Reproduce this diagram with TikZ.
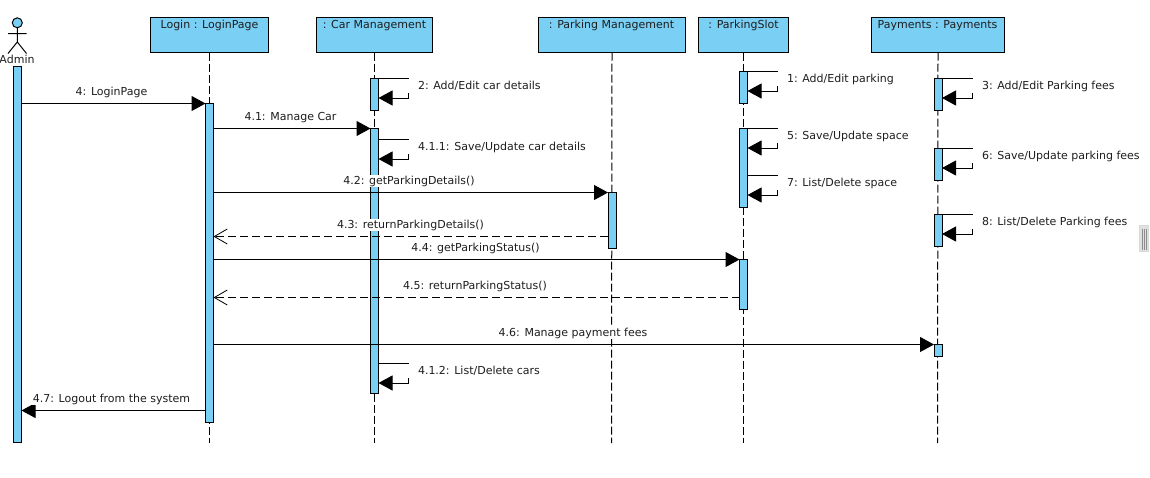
\documentclass[tikz,border=0pt]{standalone}
\usepackage{fontspec}
\setmainfont{DejaVu Sans}
\usetikzlibrary{arrows.meta}
\definecolor{umlblue}{RGB}{122,207,245}
\definecolor{inkc}{RGB}{30,30,30}
\tikzset{
  x=1pt,y=-1pt,
  every node/.style={font=\fontsize{11}{13}\selectfont,text=inkc,inner sep=0pt,outer sep=0pt},
  lifebox/.style={draw=black,fill=umlblue,line width=1pt,anchor=north west,inner sep=0pt},
  boxtitle/.style={anchor=center},
  lifeline/.style={draw=black,line width=1pt,dash pattern=on 8pt off 3pt},
  actbar/.style={draw=black,fill=umlblue,line width=1pt,minimum width=8pt,anchor=north,inner sep=0pt},
  msg/.style={draw=black,line width=1pt,-{Triangle[length=14pt,width=15pt]}},
  ret/.style={draw=black,line width=1pt,dash pattern=on 8pt off 4pt,-{Straight Barb[length=13pt,width=15pt,line width=.8pt]}},
  lab/.style={fill=white,inner ysep=.6pt,inner xsep=1pt},
  sellab/.style={fill=white,anchor=west,minimum height=13.5pt,inner xsep=10.5pt,inner ysep=0pt},
}
\newcommand{\lifebox}[5]{% name, x1, x2, title
  \node[lifebox,minimum width=#3-#2,minimum height=35pt] (#1) at (#2,17.5) {};
  \node[boxtitle] (#1t) at (#4,25.3) {#5};
}
\newcommand{\actb}[4]{% name,x,ytop,ybottom
  \node[actbar,minimum height=#4-#3] (#1) at (#2,#3) {};
}
\newcommand{\selfmsg}[5]{% name, from bar, y1, x-far, label
  \coordinate (#1a) at (#2.east |- 0,#3);
  \coordinate (#1b) at (#4,#3);
  \coordinate (#1c) at (#4,#3+19.5);
  \coordinate (#1d) at (#2.east |- 0,#3+19.5);
  \draw[msg] (#1a) -- (#1b) -- (#1c) -- (#1d);
  \node[sellab] (#1l) at (#4-1,#3+7.5) {#5};
}
\begin{document}
\begin{tikzpicture}
\useasboundingbox (0,0) rectangle (1150,477);
% lifelines
\coordinate (e1) at (209.5,443);
\coordinate (e2) at (374.5,443);
\coordinate (e3) at (611.5,443);
\coordinate (e4) at (743.5,443);
\coordinate (e5) at (937.5,443);
\lifebox{login}{150.5}{268.5}{209.5}{Login : LoginPage}
\lifebox{car}{316.5}{432.5}{374.5}{: Car Management}
\lifebox{pm}{538.5}{685.5}{611.5}{: Parking Management}
\lifebox{ps}{698.5}{788.5}{743.5}{: ParkingSlot}
\lifebox{pay}{871.5}{1004.5}{937.5}{Payments : Payments}
\draw[lifeline] (login.south) -- (e1);
\draw[lifeline] (car.south) -- (e2);
\draw[lifeline] (pm.south) -- (e3);
\draw[lifeline] (ps.south) -- (e4);
\draw[lifeline] (pay.south) -- (e5);
% actor
\node[circle,draw=black,fill=umlblue,line width=1pt,minimum size=10pt] (head) at (17.3,22.8) {};
\coordinate (hip) at (17.3,42);
\coordinate (armL) at (8,33.5);
\coordinate (armR) at (26.5,33.5);
\coordinate (legL) at (8,53.5);
\coordinate (legR) at (26.5,53.5);
\draw[black,line width=1pt] (head.south) -- (hip) (armL) -- (armR) (legL) -- (hip) -- (legR);
\node (admin) at (17,59.7) {Admin};
% activation bars
\actb{a0}{17.5}{66.5}{442.5}
\actb{a1}{209.5}{103.5}{422.5}
\actb{c1}{374.5}{78.5}{110.5}
\actb{c2}{374.5}{128.5}{393.5}
\actb{m1}{612}{192.5}{248.5}
\actb{s1}{743.5}{71.5}{103.5}
\actb{s2}{743.5}{128.5}{207.5}
\actb{s3}{743.5}{259.5}{309.5}
\actb{p1}{938}{78.5}{110.5}
\actb{p2}{938}{148.5}{180.5}
\actb{p3}{938}{214.5}{246.5}
\actb{p4}{938}{344.5}{356.5}
% messages
\draw[msg] (a0.east |- 0,103.5) -- (a1.west |- 0,103.5);
\node[lab] (l4) at (111.5,92.3) {4: LoginPage};
\draw[msg] (a1.east |- 0,128.5) -- (c2.west |- 0,128.5);
\node[lab] (l41) at (290.5,117.3) {4.1: Manage Car};
\draw[msg] (a1.east |- 0,192.5) -- (m1.west |- 0,192.5);
\node[lab] (l42) at (409,181.3) {4.2: getParkingDetails()};
\draw[ret] (m1.west |- 0,236.5) -- (a1.east |- 0,236.5);
\node[lab] (l43) at (410.5,225.3) {4.3: returnParkingDetails()};
\draw[msg] (a1.east |- 0,259.5) -- (s3.west |- 0,259.5);
\node[lab] (l44) at (475.5,248.3) {4.4: getParkingStatus()};
\draw[ret] (s3.west |- 0,297.5) -- (a1.east |- 0,297.5);
\node[lab] (l45) at (475,286.3) {4.5: returnParkingStatus()};
\draw[msg] (a1.east |- 0,344.5) -- (p4.west |- 0,344.5);
\node[lab] (l46) at (573,333.3) {4.6: Manage payment fees};
\draw[msg] (a1.west |- 0,410.5) -- (a0.east |- 0,410.5);
\node[lab] (l47) at (111.5,399.3) {4.7: Logout from the system};
% self messages
\selfmsg{m2}{c1}{78.5}{408.5}{2: Add/Edit car details}
\selfmsg{m411}{c2}{139.5}{408.5}{4.1.1: Save/Update car details}
\selfmsg{m412}{c2}{363.5}{408.5}{4.1.2: List/Delete cars}
\selfmsg{m1x}{s1}{71.5}{777.5}{1: Add/Edit parking}
\selfmsg{m5}{s2}{128.5}{777.5}{5: Save/Update space}
\selfmsg{m7}{s2}{175.5}{777.5}{7: List/Delete space}
\selfmsg{m3}{p1}{78.5}{972.5}{3: Add/Edit Parking fees}
\selfmsg{m6}{p2}{148.5}{972.5}{6: Save/Update parking fees}
\selfmsg{m8}{p3}{214.5}{972.5}{8: List/Delete Parking fees}
% window handle
\node[draw=black!15,fill=black!12,line width=1pt,minimum width=9pt,minimum height=26pt,anchor=north west] (handle) at (1139.5,225.5) {};
\draw[black!45,line width=.7pt] (1142.5,228.5) -- (1142.5,249.5) (1144.5,228.5) -- (1144.5,249.5) (1146.5,228.5) -- (1146.5,249.5);
\end{tikzpicture}
\end{document}
